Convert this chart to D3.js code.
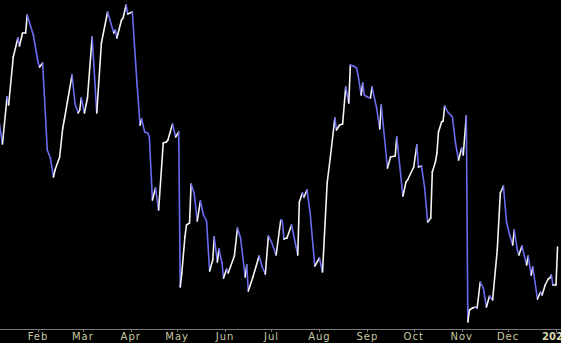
<!DOCTYPE html>
<html>
<head>
<meta charset="utf-8">
<script src="https://cdn.jsdelivr.net/npm/d3@7/dist/d3.min.js"></script>
<style>
  html, body { margin: 0; padding: 0; background: #000; overflow: hidden; }
  svg { display: block; }
  .axis text { font-family: "DejaVu Sans", sans-serif; font-size: 10px; letter-spacing: 1px; fill: #c8c8a0; }
  .axis text.year { font-weight: bold; fill: #d8d8b0; letter-spacing: 0; }
</style>
</head>
<body>
<svg></svg>
<script>
// days counted from 1 Jan 2020 (0 = Jan 1)
var days = [6,8,11,12,15,18,19,21,23,24,28,31,32,34,37,39,41,42,45,47,48,50,53,55,57,58,59,61,63,66,69,72,76,80,81,82,85,86,88,89,92,
  95,97,98,100,102,103,105,107,109,112,114,115,118,120,122,123,124,126,127,129,130,132,134,136,138,140,142,144,145,147,148,150,151,153,154,
  158,160,162,165,166,167,170,174,176,178,180,182,185,188,189,190,192,195,199,200,202,203,205,207,210,213,215,218,220,223,224,226,228,230,
  232,233,235,237,238,240,241,242,244,246,247,250,252,253,257,259,262,263,267,269,270,274,276,277,279,281,283,285,286,288,289,290,292,293,
  294,296,299,301,303,305,306,308,309,310,312,314,315,317,319,321,323,325,328,330,332,334,336,338,339,341,342,344,347,348,350,351,354,356,
  357,359,361,362,363,364,366,367];
var prices = [40.7,38.6,43.3,42.5,47.3,49.2,48.4,49.7,49.7,51.5,49.5,46.8,46.3,46.7,38.0,37.2,35.3,36.0,37.3,40.2,41.0,42.8,45.5,42.6,41.7,42.0,
  43.2,41.7,43.2,49.3,41.7,48.7,51.8,49.7,50.0,49.2,51.0,51.2,52.5,51.6,51.8,
  44.7,40.5,41.1,39.8,39.7,39.3,33.0,34.2,32.0,38.7,38.8,39.0,40.6,39.3,39.8,24.3,25.7,29.3,30.5,30.7,34.6,33.7,30.9,32.9,31.5,30.9,25.9,
  27.0,29.3,26.8,28.1,26.7,25.2,26.1,25.7,
  27.4,30.2,29.2,25.3,26.5,23.9,25.3,27.4,26.3,25.6,29.4,28.8,27.5,31.0,30.9,29.1,29.2,30.5,27.5,32.8,33.7,33.3,34.0,31.7,26.4,27.2,25.8,
  34.7,37.2,41.2,40.0,40.5,40.6,44.3,
  42.7,46.5,46.4,46.2,45.5,43.5,44.7,43.5,43.3,43.2,44.3,42.2,40.1,42.5,36.2,37.3,37.4,39.3,33.4,34.8,35.0,36.3,38.5,36.3,36.4,34.3,30.8,
  31.2,35.8,36.8,37.7,39.8,40.8,40.9,
  42.4,41.8,41.3,38.7,37.0,38.2,37.5,41.4,20.8,22.0,22.2,22.3,22.2,24.8,24.2,22.3,23.4,23.0,28.0,33.7,34.4,30.8,29.5,28.5,30.0,28.0,27.5,
  28.4,26.5,27.4,25.5,26.3,23.1,23.8,
  23.5,24.5,25.1,25.2,25.5,24.5,24.5,28.3];
var monthLabels = ["Feb","Mar","Apr","May","Jun","Jul","Aug","Sep","Oct","Nov","Dec"];
var yearLabel = "2021";

var width = 561, height = 343, axisY = 329;
var upColor = "#f4f4f4", downColor = "#6b6bf2";

var data = days.map(function(d, i){
  return { date: new Date(2020, 0, 1 + d), value: prices[i] };
});

var svg = d3.select("svg").attr("width", width).attr("height", height);

var x = d3.scaleTime()
  .domain([new Date(2020, 1, 1), new Date(2021, 0, 1)])
  .range([38, 556]);
var y = d3.scaleLinear().domain([20, 53]).range([330, 0]);

var line = d3.line()
  .x(function(d){ return x(d.date); })
  .y(function(d){ return y(d.value); });

// one segment per day, white when rising, blue when falling
var segs = d3.pairs(data);
svg.append("g").attr("class", "price")
  .selectAll("path")
  .data(segs)
  .enter().append("path")
  .attr("d", function(p){ return line(p); })
  .attr("fill", "none")
  .attr("stroke", function(p){ return p[1].value >= p[0].value ? upColor : downColor; })
  .attr("stroke-width", 1.6)
  .attr("stroke-linecap", "round")
  .attr("stroke-linejoin", "round");

// bottom axis
var ticks = monthLabels.map(function(m, i){ return new Date(2020, i + 1, 1); });
ticks.push(new Date(2021, 0, 1));

var axis = svg.append("g").attr("class", "axis");
axis.append("line")
  .attr("x1", 0).attr("x2", width)
  .attr("y1", axisY + 0.5).attr("y2", axisY + 0.5)
  .attr("stroke", "#7a7a7a");

axis.selectAll("line.tick")
  .data(ticks)
  .enter().append("line")
  .attr("class", "tick")
  .attr("x1", function(d){ return Math.round(x(d)) + 0.5; })
  .attr("x2", function(d){ return Math.round(x(d)) + 0.5; })
  .attr("y1", axisY).attr("y2", axisY + 3)
  .attr("stroke", "#7a7a7a");

axis.selectAll("text.month")
  .data(ticks)
  .enter().append("text")
  .attr("class", function(d, i){ return i < monthLabels.length ? "month" : "month year"; })
  .attr("x", function(d){ return x(d); })
  .attr("y", 340)
  .attr("text-anchor", "middle")
  .text(function(d, i){ return i < monthLabels.length ? monthLabels[i] : yearLabel; });
</script>
</body>
</html>
